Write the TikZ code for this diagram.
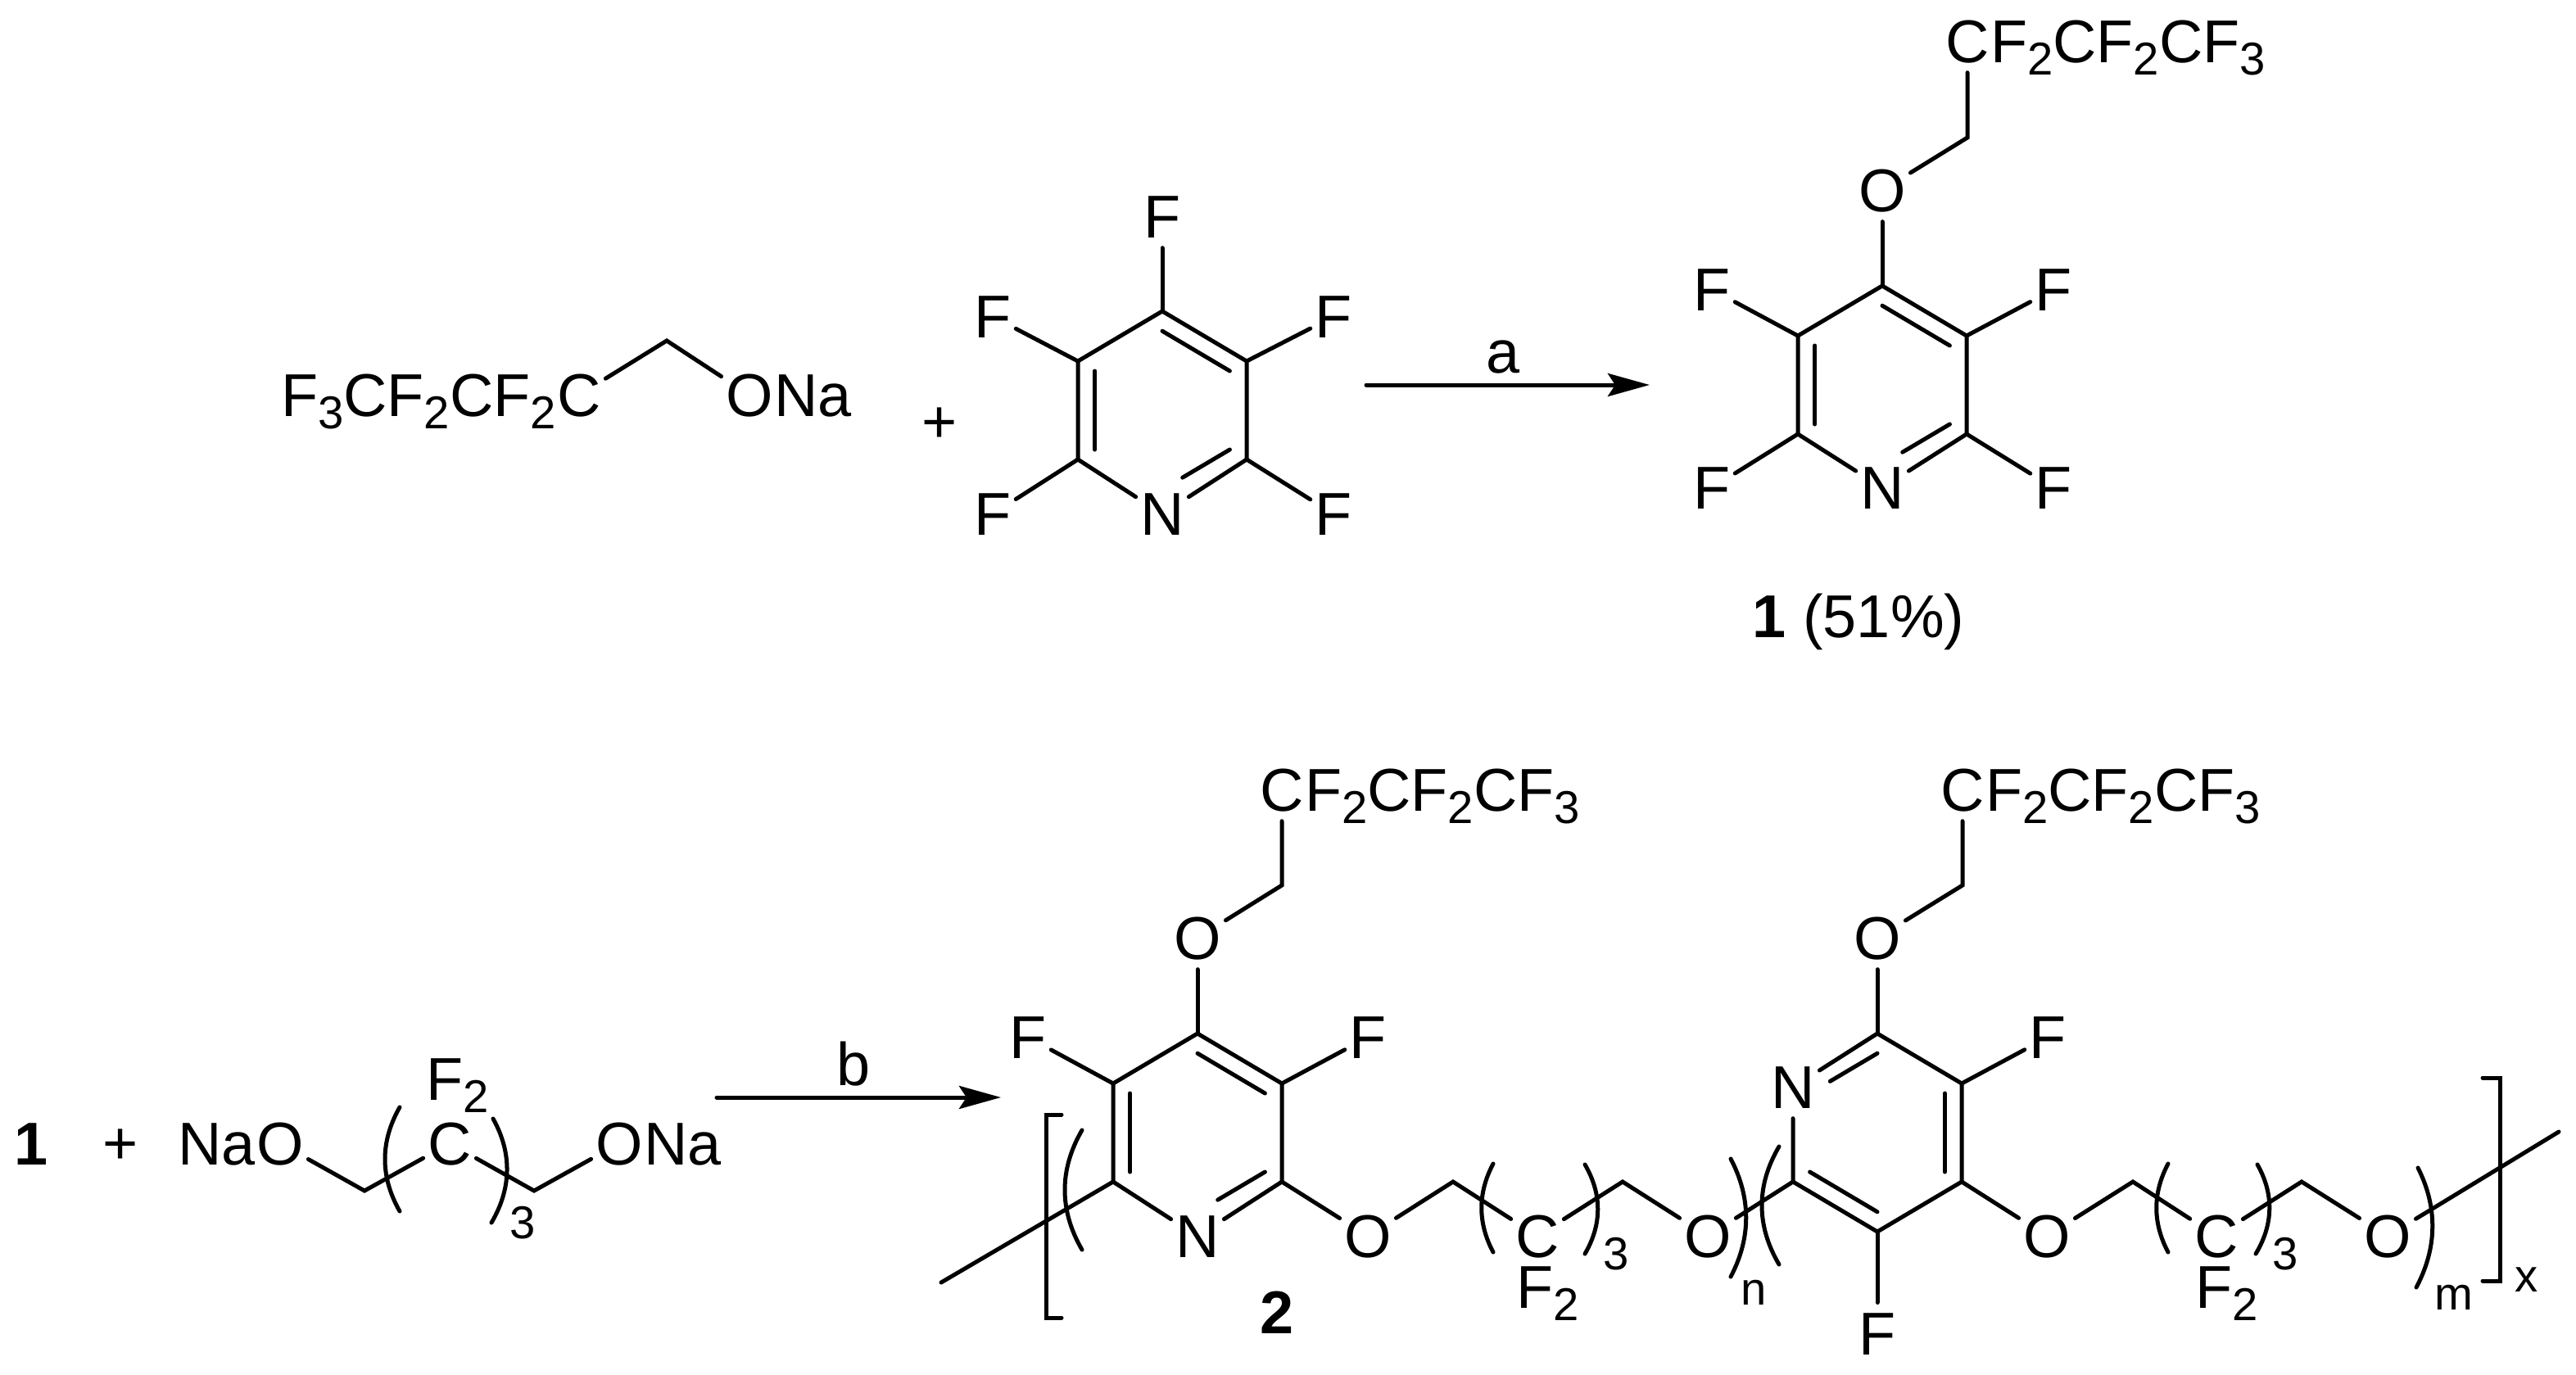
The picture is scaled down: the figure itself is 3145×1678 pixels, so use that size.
\documentclass[tikz,border=0pt]{standalone}
\usepackage{fontspec}
\setmainfont{Liberation Sans}
\usetikzlibrary{arrows.meta,calc}

\newcommand{\chemsub}[1]{\raisebox{-0.21em}{\fontsize{16}{16}\selectfont #1}}
\newcommand{\ringat}[3]{
\coordinate (#1c) at (#2,#3);
\coordinate (#1t) at ($(#1c)+(0,-121)$);
\coordinate (#1ul) at ($(#1c)+(-103,-60)$);
\coordinate (#1ur) at ($(#1c)+(103,-60)$);
\coordinate (#1ll) at ($(#1c)+(-103,60)$);
\coordinate (#1lr) at ($(#1c)+(103,60)$);
\coordinate (#1b) at ($(#1c)+(0,121)$);
}
\newcommand{\innerbond}[4]{
\draw[bond] ($(#1)!0.2!(#3)$) -- ($($(#1)!0.2!(#3)$)!#4!($(#2)!0.2!(#3)$)$);
}

\tikzset{
bond/.style={line width=0.05cm, line cap=round, line join=miter},
atom/.style={anchor=base, inner xsep=0.05cm, inner ysep=0.12cm, text depth=0pt, font=\fontsize{21}{21}\selectfont},
tail/.style={anchor=base west, inner sep=0pt, text depth=0pt, font=\fontsize{21}{21}\selectfont},
tailr/.style={tail, anchor=base east},
num/.style={anchor=base, inner sep=0pt, text depth=0pt, font=\fontsize{16}{16}\selectfont},
rxn/.style={bond, -{Stealth[length=0.51cm,width=0.28cm,inset=0.09cm]}},
}

\begin{document}
\begin{tikzpicture}[x=0.01cm,y=-0.01cm]

\useasboundingbox (0,0) rectangle (3145,1678);

\ringat{a}{1419}{501}
\ringat{b}{2298}{470}
\ringat{p}{1462}{1383}
\ringat{q}{2292}{1383}

\node[atom] (cna) at (707,508) {C};
\node[tailr] (hna) at ([xshift=0.05cm]cna.base west) {F\chemsub{3}CF\chemsub{2}CF\chemsub{2}};
\node[atom] (ona) at (915,508) {O};
\node[tail] (nna) at ([xshift=-0.05cm]ona.base east) {Na};
\coordinate (vna) at (814,416);
\draw[bond] (cna) -- (vna) -- (ona);
\node[atom] (plusa) at (1147,540) {+};

\node[atom] (fat) at (1419,290) {F};
\node[atom] (faul) at (1212,412) {F};
\node[atom] (faur) at (1628,412) {F};
\node[atom] (fall) at (1212,653) {F};
\node[atom] (falr) at (1628,653) {F};
\node[atom] (na) at (1419,653) {N};
\draw[bond] (all) -- (aul) -- (at) -- (aur) -- (alr);
\draw[bond] (all) -- (na);
\draw[bond] (alr) -- (na);
\draw[bond] (fat) -- (at);
\draw[bond] (faul) -- (aul);
\draw[bond] (faur) -- (aur);
\draw[bond] (fall) -- (all);
\draw[bond] (falr) -- (alr);
\innerbond{aul}{all}{ac}{1}
\innerbond{at}{aur}{ac}{1}
\innerbond{alr}{ab}{ac}{0.7}

\coordinate (arra) at (1668,470);
\coordinate (arrb) at (2014,470);
\draw[rxn] (arra) -- (arrb);
\node[atom] (laba) at (1835,455) {a};

\node[atom] (fbul) at (2090,379) {F};
\node[atom] (fbur) at (2507,379) {F};
\node[atom] (fbll) at (2090,621) {F};
\node[atom] (fblr) at (2507,621) {F};
\node[atom] (nb) at (2298,621) {N};
\node[atom] (ob) at (2298,258) {O};
\node[atom] (cb) at (2402,76) {C};
\node[tail] (tb) at ([xshift=-0.05cm]cb.base east) {F\chemsub{2}CF\chemsub{2}CF\chemsub{3}};
\coordinate (vb) at (2402,168);
\draw[bond] (bll) -- (bul) -- (bt) -- (bur) -- (blr);
\draw[bond] (bll) -- (nb);
\draw[bond] (blr) -- (nb);
\draw[bond] (ob) -- (bt);
\draw[bond] (ob) -- (vb) -- (cb);
\draw[bond] (fbul) -- (bul);
\draw[bond] (fbur) -- (bur);
\draw[bond] (fbll) -- (bll);
\draw[bond] (fblr) -- (blr);
\innerbond{bul}{bll}{bc}{1}
\innerbond{bt}{bur}{bc}{1}
\innerbond{blr}{bb}{bc}{0.7}
\node[atom] (yield) at (2269,778) {\textbf{1} (51\%)};

\node[atom] (one) at (38,1422) {\textbf{1}};
\node[atom] (plusb) at (147,1421) {+};
\node[atom] (ol) at (342,1422) {O};
\node[tailr] (nal) at ([xshift=0.05cm]ol.base west) {Na};
\node[atom] (cd) at (549,1422) {C};
\node[tail] (fd) at (520,1343) {F\chemsub{2}};
\node[atom] (or) at (756,1422) {O};
\node[tail] (nar) at ([xshift=-0.05cm]or.base east) {Na};
\coordinate (vl) at (445,1454);
\coordinate (vr) at (652,1454);
\draw[bond] (ol) -- (vl) -- (cd);
\draw[bond] (cd) -- (vr) -- (or);
\node[num] (three) at (638,1512) {3};

\coordinate (arrc) at (875,1340);
\coordinate (arrd) at (1222,1340);
\draw[rxn] (arrc) -- (arrd);
\node[atom] (labb) at (1042,1325) {b};

\node[atom] (fpul) at (1255,1292) {F};
\node[atom] (fpur) at (1670,1292) {F};
\node[atom] (np) at (1462,1535) {N};
\node[atom] (op) at (1462,1171) {O};
\node[atom] (cp) at (1565,990) {C};
\node[tail] (tp) at ([xshift=-0.05cm]cp.base east) {F\chemsub{2}CF\chemsub{2}CF\chemsub{3}};
\coordinate (vp) at (1565,1081);
\coordinate (endl) at (1149,1566);
\draw[bond] (pll) -- (pul) -- (pt) -- (pur) -- (plr);
\draw[bond] (pll) -- (np);
\draw[bond] (plr) -- (np);
\draw[bond] (endl) -- (pll);
\draw[bond] (op) -- (pt);
\draw[bond] (op) -- (vp) -- (cp);
\draw[bond] (fpul) -- (pul);
\draw[bond] (fpur) -- (pur);
\innerbond{pul}{pll}{pc}{1}
\innerbond{pt}{pur}{pc}{1}
\innerbond{plr}{pb}{pc}{0.7}
\node[atom] (two) at (1559,1628) {\textbf{2}};

\node[atom] (oe) at (1670,1535) {O};
\node[atom,inner ysep=0.08cm] (ce) at (1877,1535) {C};
\node[atom] (og) at (2085,1535) {O};
\node[tail] (fe) at (1851,1597) {F\chemsub{2}};
\coordinate (ve) at (1774,1443);
\coordinate (vg) at (1981,1443);
\draw[bond] (plr) -- (oe) -- (ve) -- (ce);
\draw[bond] (ce) -- (vg) -- (og);
\draw[bond] (og) -- (qll);
\node[num] (threep) at (1973,1550) {3};
\node[num] (subn) at (2141,1593) {n};

\node[atom] (fqur) at (2500,1292) {F};
\node[atom] (fqb) at (2292,1654) {F};
\node[atom] (nq) at (2189,1353) {N};
\node[atom] (oq) at (2292,1171) {O};
\node[atom] (cq) at (2396,990) {C};
\node[tail] (tq) at ([xshift=-0.05cm]cq.base east) {F\chemsub{2}CF\chemsub{2}CF\chemsub{3}};
\coordinate (vq) at (2396,1081);
\draw[bond] (nq) -- (qt) -- (qur) -- (qlr) -- (qb) -- (qll) -- (nq);
\draw[bond] (oq) -- (qt);
\draw[bond] (oq) -- (vq) -- (cq);
\draw[bond] (fqur) -- (qur);
\draw[bond] (fqb) -- (qb);
\innerbond{qt}{qul}{qc}{0.7}
\innerbond{qur}{qlr}{qc}{1}
\innerbond{qll}{qb}{qc}{1}

\node[atom] (oh) at (2499,1535) {O};
\node[atom,inner ysep=0.08cm] (ch) at (2706,1535) {C};
\node[atom] (oj) at (2915,1535) {O};
\node[tail] (fh) at (2680,1597) {F\chemsub{2}};
\coordinate (vh) at (2604,1443);
\coordinate (vj) at (2810,1443);
\coordinate (endr) at (3124,1382);
\draw[bond] (qlr) -- (oh) -- (vh) -- (ch);
\draw[bond] (ch) -- (vj) -- (oj);
\draw[bond] (oj) -- (endr);
\node[num] (threeq) at (2790,1550) {3};
\node[num] (subm) at (2996,1599) {m};
\node[num] (subx) at (3085,1577) {x};

\draw[bond] (1296,1361) -- (1277,1361) -- (1277,1609) -- (1296,1609);
\draw[bond] (3031,1316) -- (3052,1316) -- (3052,1564) -- (3031,1564);

\foreach \xa/\ya/\d/\xc/\yc in {488/1352/-24/488/1479, 602/1366/24/600/1493,
  1321/1380/-28/1321/1526, 1823/1421/-19/1823/1529, 1935/1422/21/1935/1531,
  2113/1415/25/2113/1559, 2172/1400/-28/2172/1544, 2647/1421/-19/2647/1529,
  2756/1422/21/2754/1531, 2952/1426/25/2950/1572}
\draw[bond] (\xa,\ya) .. controls ($(\xa,\ya)!0.33!(\xc,\yc)+(\d,0)$) and ($(\xa,\ya)!0.67!(\xc,\yc)+(\d,0)$) .. (\xc,\yc);

\end{tikzpicture}
\end{document}
